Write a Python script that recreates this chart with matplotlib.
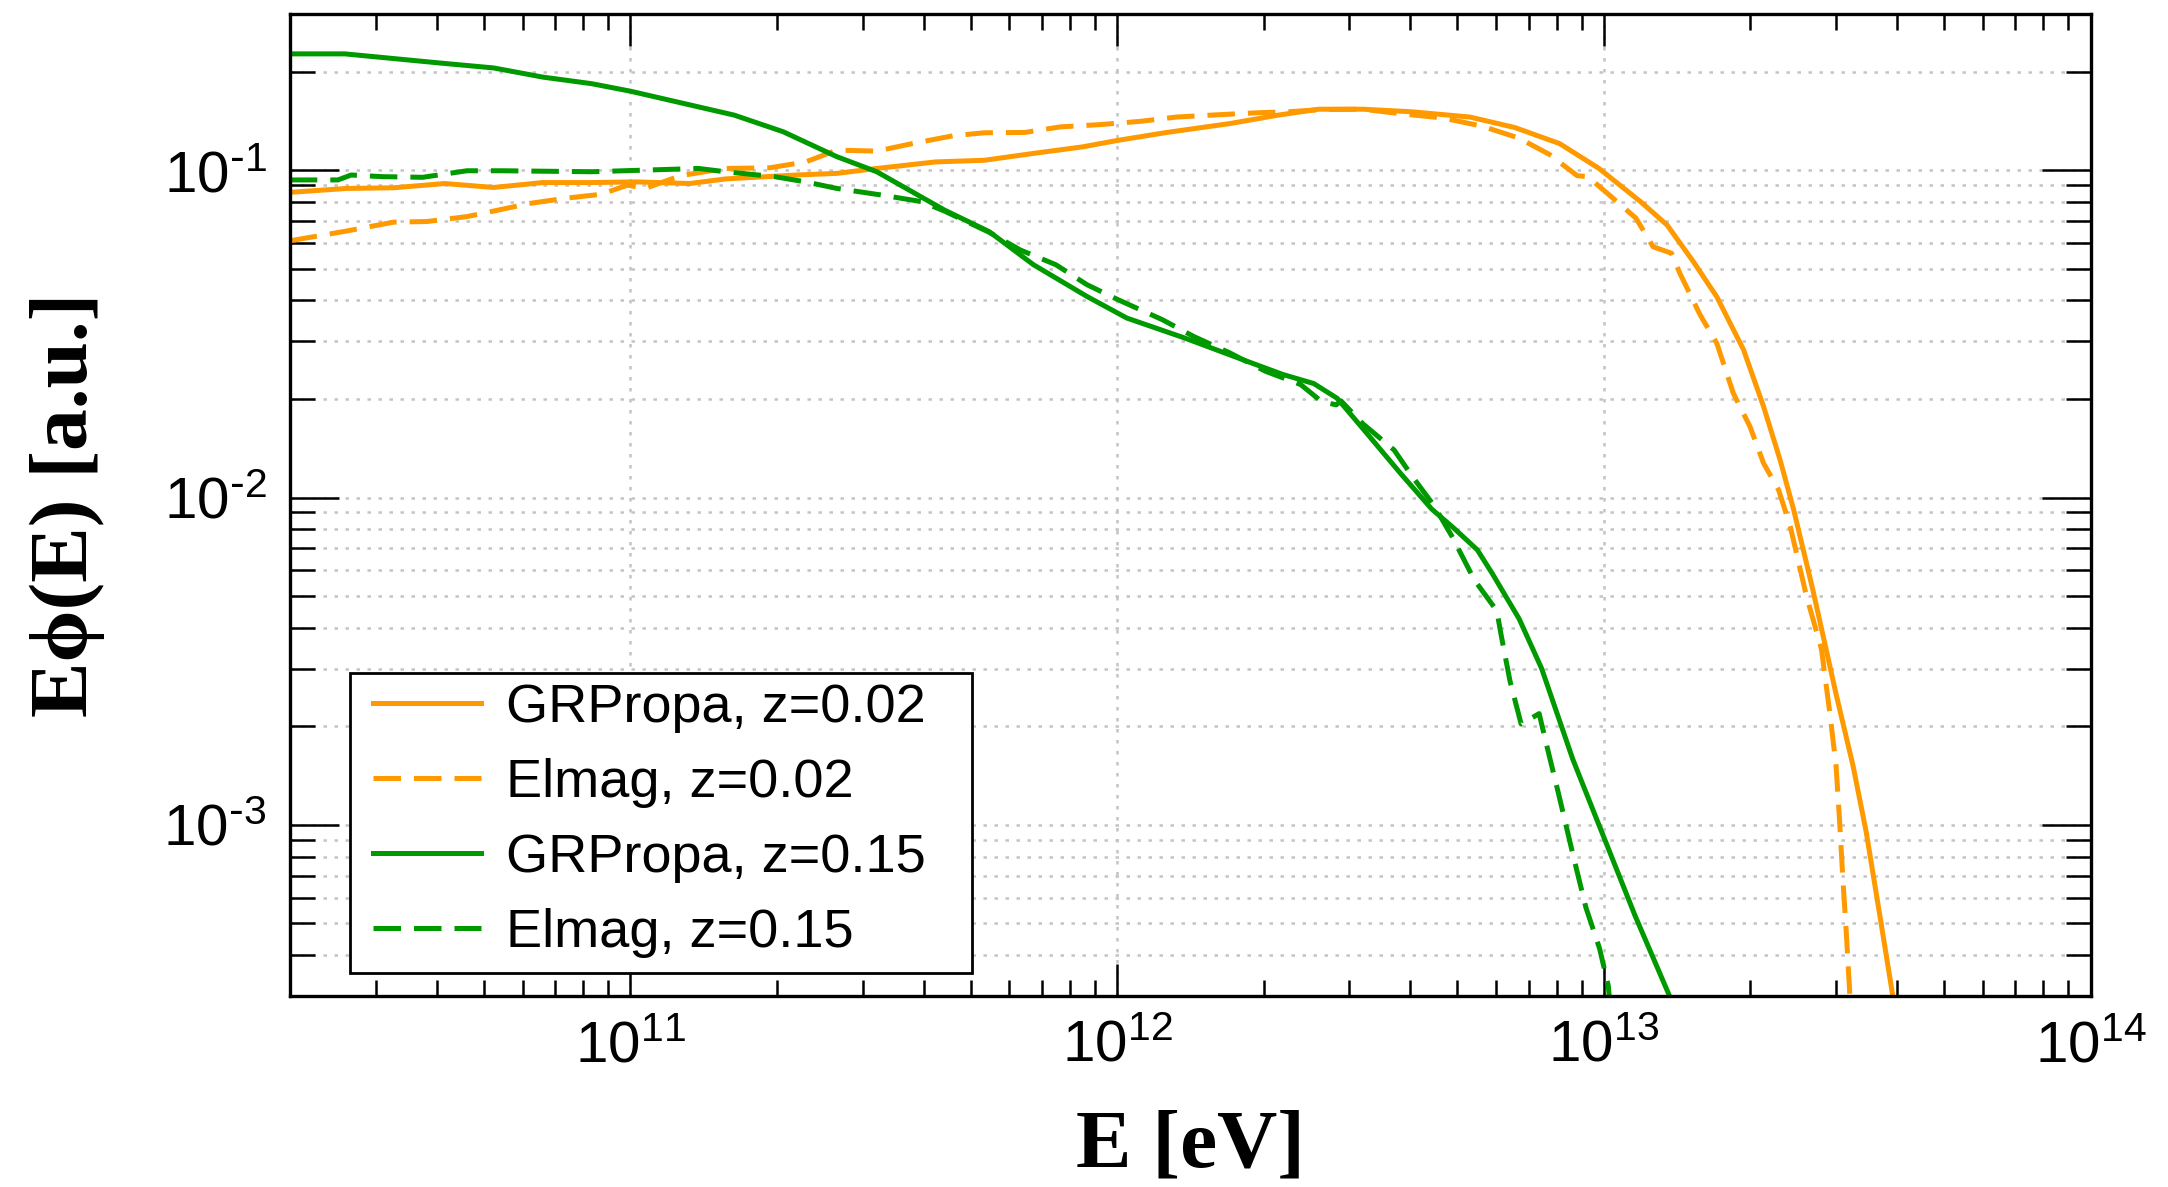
import numpy as np
import matplotlib
matplotlib.use("Agg")
import matplotlib.pyplot as plt
from matplotlib.patches import Rectangle

# log10(E / eV) and log10(E*phi) read for each spectrum
logE_grp_002 = [10.300, 10.417, 10.513, 10.618, 10.719, 10.820, 10.920, 11.012, 11.122, 11.195,
                11.341, 11.424, 11.506, 11.627, 11.727, 11.828, 11.929, 12.002, 12.102, 12.231,
                12.331, 12.414, 12.505, 12.606, 12.725, 12.817, 12.909, 12.990, 13.075, 13.130,
                13.184, 13.232, 13.287, 13.328, 13.362, 13.390, 13.429, 13.477, 13.512, 13.539,
                13.567, 13.594, 13.600]
logF_grp_002 = [-1.068, -1.056, -1.054, -1.041, -1.053, -1.038, -1.038, -1.036, -1.041, -1.027,
                -1.015, -1.010, -0.995, -0.975, -0.970, -0.949, -0.929, -0.909, -0.885, -0.858,
                -0.832, -0.814, -0.814, -0.822, -0.838, -0.870, -0.919, -0.995, -1.096, -1.168,
                -1.280, -1.387, -1.549, -1.722, -1.885, -2.038, -2.280, -2.600, -2.820, -3.022,
                -3.277, -3.526, -3.580]

logE_elm_002 = [10.300, 10.417, 10.513, 10.582, 10.664, 10.719, 10.792, 10.866, 10.939, 10.994,
                11.030, 11.103, 11.195, 11.286, 11.360, 11.424, 11.506, 11.579, 11.663, 11.727,
                11.810, 11.883, 11.965, 12.048, 12.121, 12.194, 12.285, 12.349, 12.423, 12.505,
                12.578, 12.670, 12.750, 12.825, 12.888, 12.945, 12.967, 13.011, 13.066, 13.101,
                13.139, 13.156, 13.198, 13.232, 13.266, 13.300, 13.328, 13.359, 13.383, 13.416,
                13.447, 13.464, 13.477, 13.484, 13.491, 13.498, 13.505, 13.507]
logF_elm_002 = [-1.216, -1.186, -1.159, -1.157, -1.142, -1.125, -1.102, -1.086, -1.074, -1.046,
                -1.056, -1.017, -0.995, -0.993, -0.975, -0.939, -0.942, -0.919, -0.895, -0.886,
                -0.885, -0.868, -0.861, -0.851, -0.838, -0.832, -0.825, -0.822, -0.815, -0.814,
                -0.827, -0.841, -0.866, -0.902, -0.952, -1.017, -1.020, -1.076, -1.147, -1.234,
                -1.254, -1.315, -1.443, -1.529, -1.682, -1.783, -1.895, -1.977, -2.089, -2.300,
                -2.463, -2.656, -2.819, -2.982, -3.165, -3.328, -3.511, -3.560]

logE_grp_015 = [10.300, 10.413, 10.609, 10.719, 10.820, 10.920, 11.000, 11.213, 11.314, 11.424,
                11.506, 11.645, 11.737, 11.828, 11.938, 12.020, 12.139, 12.267, 12.340, 12.404,
                12.452, 12.513, 12.582, 12.646, 12.692, 12.740, 12.771, 12.826, 12.872, 12.936,
                13.000, 13.064, 13.133, 13.140]
logF_grp_015 = [-0.645, -0.645, -0.673, -0.688, -0.716, -0.736, -0.759, -0.832, -0.883, -0.959,
                -1.005, -1.122, -1.188, -1.289, -1.386, -1.452, -1.513, -1.584, -1.624, -1.652,
                -1.697, -1.804, -1.926, -2.035, -2.094, -2.160, -2.233, -2.371, -2.522, -2.799,
                -3.038, -3.277, -3.516, -3.545]

logE_elm_015 = [10.300, 10.399, 10.426, 10.490, 10.573, 10.664, 10.737, 10.920, 11.140, 11.195,
                11.296, 11.360, 11.424, 11.515, 11.597, 11.645, 11.737, 11.801, 11.874, 11.938,
                12.002, 12.093, 12.157, 12.231, 12.304, 12.377, 12.420, 12.450, 12.460, 12.505,
                12.569, 12.606, 12.651, 12.688, 12.734, 12.780, 12.789, 12.807, 12.830, 12.867,
                12.881, 12.908, 12.936, 12.963, 12.991, 13.009, 13.013]
logF_elm_015 = [-1.030, -1.030, -1.015, -1.020, -1.022, -1.002, -1.002, -1.005, -0.995, -1.005,
                -1.020, -1.036, -1.056, -1.076, -1.096, -1.125, -1.190, -1.244, -1.289, -1.350,
                -1.396, -1.457, -1.508, -1.558, -1.614, -1.655, -1.707, -1.717, -1.705, -1.775,
                -1.855, -1.935, -2.025, -2.119, -2.252, -2.346, -2.421, -2.560, -2.692, -2.660,
                -2.748, -2.912, -3.088, -3.252, -3.377, -3.491, -3.560]

labels = ["GRPropa, z=0.02", "Elmag, z=0.02", "GRPropa, z=0.15", "Elmag, z=0.15"]

x_tick_exp = [11, 12, 13, 14]
y_tick_exp = [-3, -2, -1]

ORANGE = "#ff9900"
GREEN = "#009900"
DASH = (0, (5.5, 2.6))
LW = 3.6

plt.rcParams["font.family"] = ["Liberation Sans", "DejaVu Sans"]
plt.rcParams["mathtext.default"] = "regular"


def sup_label(e):
    if e < 0:
        return r"$10^{\text{-}%d}$" % abs(e)
    return r"$10^{%d}$" % e


fig = plt.figure(figsize=(21.68, 11.87), dpi=100)
ax = fig.add_axes([0.1339, 0.1608, 0.8304, 0.8275])

series = [
    (logE_grp_002, logF_grp_002, ORANGE, "-"),
    (logE_elm_002, logF_elm_002, ORANGE, DASH),
    (logE_grp_015, logF_grp_015, GREEN, "-"),
    (logE_elm_015, logF_elm_015, GREEN, DASH),
]
for (lx, ly, col, ls), lab in zip(series, labels):
    ax.plot(np.power(10.0, lx), np.power(10.0, ly), color=col, linestyle=ls,
            lw=LW, label=lab)

ax.set_xscale("log")
ax.set_yscale("log")
ax.set_xlim(2e10, 1e14)
ax.set_ylim(3e-4, 0.3)

ax.set_xticks([10.0 ** e for e in x_tick_exp], [sup_label(e) for e in x_tick_exp])
ax.set_yticks([10.0 ** e for e in y_tick_exp], [sup_label(e) for e in y_tick_exp])

# inward ticks on all four sides
ax.tick_params(which="both", direction="in", top=True, right=True, width=1.8,
               labelsize=42, colors="black")
ax.tick_params(axis="x", which="major", length=23, pad=17)
ax.tick_params(axis="x", which="minor", length=11.5)
ax.tick_params(axis="y", which="major", length=35, pad=17)
ax.tick_params(axis="y", which="minor", length=18)
ax.yaxis.set_minor_formatter(matplotlib.ticker.NullFormatter())
ax.xaxis.set_minor_formatter(matplotlib.ticker.NullFormatter())

for sp in ax.spines.values():
    sp.set_linewidth(2.4)

grid_style = dict(color="#c4c4c4", linestyle=(0, (1.4, 3.0)), linewidth=1.8)
ax.grid(True, which="major", axis="x", **grid_style)
ax.grid(True, which="both", axis="y", **grid_style)
ax.set_axisbelow(True)

serif = ["Liberation Serif", "DejaVu Serif"]
ax.set_xlabel("E [eV]", fontsize=60, fontweight="bold", family=serif)
ax.set_ylabel("E\u03d5(E) [a.u.]", fontsize=60, fontweight="bold", family=serif)
ax.xaxis.set_label_coords(0.5, -0.115)
ax.yaxis.set_label_coords(-0.103, 0.5)

# legend box drawn separately so its size is fixed
ax.add_patch(Rectangle((0.0331, 0.0239), 0.3456, 0.3046, transform=ax.transAxes,
                       facecolor="white", edgecolor="black", lw=2.0, zorder=4))
leg = ax.legend(loc="center left", bbox_to_anchor=(0.0459, 0.179), borderaxespad=0,
                fontsize=39, frameon=False, handlelength=2.0, handletextpad=0.45,
                labelspacing=0.465, borderpad=0)
leg.set_zorder(5)

fig.savefig("out.png", dpi=100)
